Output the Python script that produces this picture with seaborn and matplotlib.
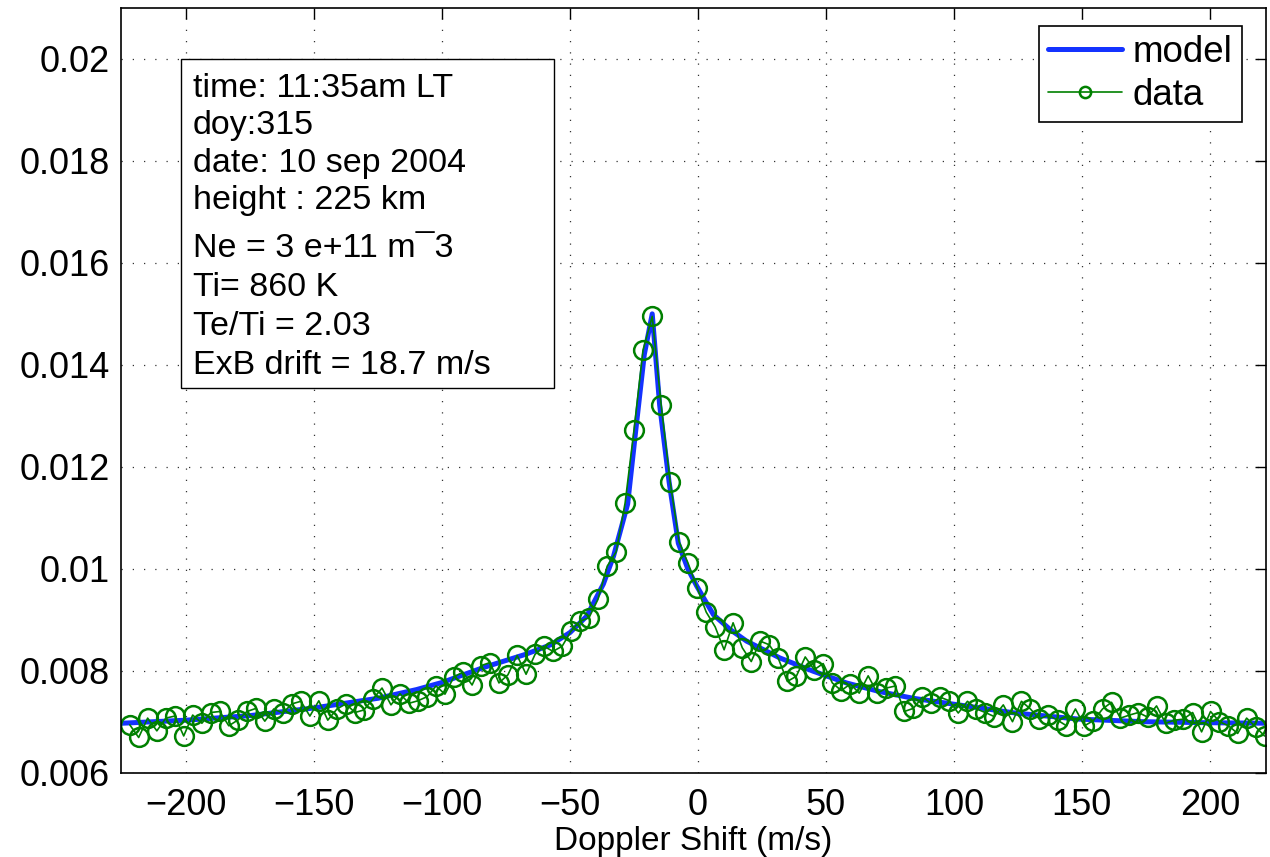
import matplotlib
matplotlib.use('Agg')
import numpy as np
import pandas as pd
import seaborn as sns
import matplotlib.pyplot as plt
from matplotlib.patches import Rectangle

# measured spectrum (Doppler shift in m/s, normalised power)
data_x = [-222.1, -218.6, -215.1, -211.5, -208.0, -204.5, -201.0, -197.5, -193.9, -190.4,
          -186.9, -183.4, -179.9, -176.3, -172.8, -169.3, -165.8, -162.3, -158.7, -155.2,
          -151.7, -148.2, -144.7, -141.1, -137.6, -134.1, -130.6, -127.1, -123.5, -120.0,
          -116.5, -113.0, -109.5, -105.9, -102.4, -98.9, -95.4, -91.9, -88.3, -84.8,
          -81.3, -77.8, -74.3, -70.7, -67.2, -63.7, -60.2, -56.7, -53.1, -49.6,
          -46.1, -42.6, -39.1, -35.5, -32.0, -28.5, -25.0, -21.5, -17.9, -14.4,
          -10.9, -7.4, -3.9, -0.3, 3.2, 6.7, 10.2, 13.7, 17.3, 20.8,
          24.3, 27.8, 31.3, 34.9, 38.4, 41.9, 45.4, 48.9, 52.5, 56.0,
          59.5, 63.0, 66.5, 70.1, 73.6, 77.1, 80.6, 84.1, 87.7, 91.2,
          94.7, 98.2, 101.7, 105.3, 108.8, 112.3, 115.8, 119.3, 122.9, 126.4,
          129.9, 133.4, 136.9, 140.5, 144.0, 147.5, 151.0, 154.5, 158.1, 161.6,
          165.1, 168.6, 172.1, 175.7, 179.2, 182.7, 186.2, 189.7, 193.3, 196.8,
          200.3, 203.8, 207.3, 210.9, 214.4, 217.9, 221.4]
data_y = [0.00694, 0.00669, 0.00707, 0.00682, 0.00707, 0.00711, 0.00672, 0.00713, 0.00697, 0.00718,
          0.00720, 0.00692, 0.00703, 0.00720, 0.00726, 0.00701, 0.00725, 0.00717, 0.00735, 0.00740,
          0.00711, 0.00741, 0.00703, 0.00725, 0.00735, 0.00718, 0.00723, 0.00744, 0.00766, 0.00733,
          0.00755, 0.00736, 0.00741, 0.00749, 0.00770, 0.00754, 0.00788, 0.00797, 0.00772, 0.00810,
          0.00816, 0.00776, 0.00792, 0.00830, 0.00793, 0.00832, 0.00848, 0.00838, 0.00848, 0.00878,
          0.00897, 0.00904, 0.00940, 0.01005, 0.01033, 0.01129, 0.01273, 0.01429, 0.01495, 0.01321,
          0.01171, 0.01053, 0.01011, 0.00962, 0.00915, 0.00886, 0.00841, 0.00894, 0.00845, 0.00818,
          0.00858, 0.00851, 0.00825, 0.00779, 0.00789, 0.00827, 0.00802, 0.00814, 0.00776, 0.00761,
          0.00774, 0.00756, 0.00790, 0.00756, 0.00766, 0.00770, 0.00720, 0.00726, 0.00748, 0.00736,
          0.00748, 0.00741, 0.00717, 0.00740, 0.00725, 0.00718, 0.00710, 0.00733, 0.00700, 0.00740,
          0.00725, 0.00705, 0.00713, 0.00703, 0.00692, 0.00725, 0.00692, 0.00702, 0.00725, 0.00738,
          0.00707, 0.00713, 0.00718, 0.00709, 0.00731, 0.00697, 0.00703, 0.00705, 0.00718, 0.00680,
          0.00720, 0.00700, 0.00692, 0.00677, 0.00707, 0.00690, 0.00672]

# fitted model curve
model_x = [-225, -200, -175, -150, -125, -110, -100, -84, -67.5, -57.5, -50, -43.5, -37, -33,
           -27.5, -24.3, -21, -17.9, -15, -11.3, -7.7, -4, -0.5, 6, 12.5, 19, 32, 45, 58, 71,
           84, 99, 124, 149, 174, 199, 222]
model_y = [0.00697, 0.00703, 0.00712, 0.00727, 0.00746, 0.00763, 0.00777, 0.00806, 0.00832,
           0.00851, 0.00875, 0.00907, 0.00970, 0.01025, 0.01127, 0.01273, 0.0142, 0.0150,
           0.01321, 0.0117, 0.0105, 0.0100, 0.00966, 0.0091, 0.00881, 0.00858, 0.00825,
           0.00799, 0.00776, 0.00759, 0.00746, 0.00735, 0.00717, 0.00705, 0.00700, 0.00698,
           0.00697]

info_lines = ['time: 11:35am LT', 'doy:315', 'date: 10 sep 2004', 'height : 225 km',
              'Ne = 3 e+11 m\u00af3', 'Ti= 860 K', 'Te/Ti = 2.03', 'ExB drift = 18.7 m/s']
info_y = [0.895, 0.846, 0.796, 0.748, 0.685, 0.634, 0.584, 0.533]

sns.set_style('white')
plt.rcParams['font.family'] = ['Liberation Sans', 'DejaVu Sans']
plt.rcParams['text.color'] = 'black'
plt.rcParams['axes.labelcolor'] = 'black'

model_df = pd.DataFrame({'x': model_x, 'y': model_y})
data_df = pd.DataFrame({'x': data_x, 'y': data_y})

fig = plt.figure(figsize=(12.7, 8.57), dpi=100)
ax = fig.add_axes([0.0953, 0.0984, 0.9016, 0.8923])

sns.lineplot(data=model_df, x='x', y='y', ax=ax, color='#1433ff', linewidth=3.6,
             label='model', sort=False)
sns.lineplot(data=data_df, x='x', y='y', ax=ax, color='#008000', linewidth=1.2,
             marker='o', markersize=13.5, markerfacecolor='none',
             markeredgecolor='#008000', markeredgewidth=1.8, label='data', sort=False)

ax.set_xlim(-225.5, 222)
ax.set_ylim(0.006, 0.021)
ax.set_xticks([-200, -150, -100, -50, 0, 50, 100, 150, 200])
ax.set_xticklabels(['\u2212200', '\u2212150', '\u2212100', '\u221250', '0', '50', '100', '150', '200'])
ax.set_yticks([0.006, 0.008, 0.01, 0.012, 0.014, 0.016, 0.018, 0.02])
ax.set_yticklabels(['0.006', '0.008', '0.01', '0.012', '0.014', '0.016', '0.018', '0.02'])
ax.tick_params(axis='both', direction='in', length=8, width=1.0, labelsize=26,
               top=True, right=True, colors='black')
ax.tick_params(axis='x', pad=11)
ax.tick_params(axis='y', pad=8)
ax.grid(True, color='0.2', linestyle=(0, (1, 8)), linewidth=0.9)
for s in ax.spines.values():
    s.set_color('black')
    s.set_linewidth(1.2)
ax.set_xlabel('Doppler Shift (m/s)', fontsize=24, labelpad=2)
ax.set_ylabel('')

# annotation box
ax.add_patch(Rectangle((0.0524, 0.5031), 0.3258, 0.4302, transform=ax.transAxes,
                       facecolor='white', edgecolor='black', linewidth=1.0, zorder=5))
for line, y in zip(info_lines, info_y):
    ax.text(0.0629, y, line, transform=ax.transAxes, fontsize=24.5, va='center',
            ha='left', zorder=6, color='black')

leg = ax.legend(loc='upper right', bbox_to_anchor=(0.979, 0.977), borderaxespad=0,
                fontsize=26.5, fancybox=False, edgecolor='black', framealpha=1,
                handlelength=2.0, handletextpad=0.3, labelspacing=0.22,
                borderpad=0.25, markerscale=0.6)
leg.get_frame().set_linewidth(1.2)
for t in leg.get_texts():
    t.set_color('black')

fig.savefig('out.png', dpi=100)
